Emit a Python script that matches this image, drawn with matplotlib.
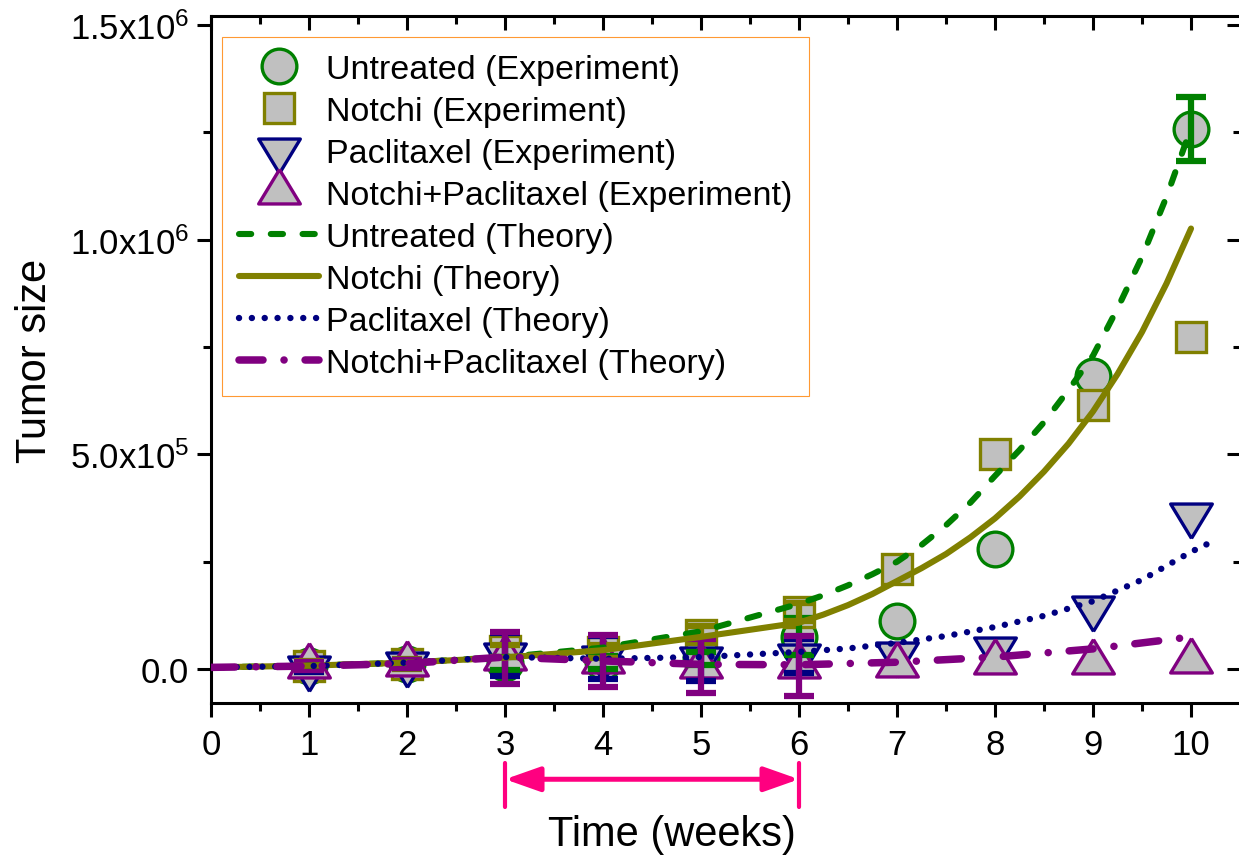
import numpy as np
import matplotlib
matplotlib.use('Agg')
import matplotlib.pyplot as plt
from matplotlib.path import Path
from matplotlib.transforms import blended_transform_factory

plt.rcParams['font.family'] = ['Liberation Sans', 'DejaVu Sans']
plt.rcParams['mathtext.default'] = 'regular'

# experiment (weeks 1..10)
weeks = [1, 2, 3, 4, 5, 6, 7, 8, 9, 10]
untreated = [8e3, 1.2e4, 1.4e4, 1.6e4, 2.5e4, 7.5e4, 1.12e5, 2.8e5, 6.83e5, 1.258e6]
notchi = [7e3, 1.2e4, 4.2e4, 4.0e4, 8.0e4, 1.33e5, 2.33e5, 5.0e5, 6.15e5, 7.73e5]
paclitaxel = [3e3, 1.2e4, 3.3e4, 2.6e4, 2.3e4, 3.0e4, 3.5e4, 4.7e4, 1.42e5, 3.6e5]
combo = [7e3, 1.2e4, 2.6e4, 1.9e4, 7e3, 7e3, 1.0e4, 1.6e4, 1.6e4, 1.9e4]

untreated_err = [8e3, 8e3, 1.5e4, 1.5e4, 1.5e4, 4.3e4, 0, 0, 0, 7.5e4]
notchi_err = [1.2e4, 1.2e4, 1.5e4, 1.5e4, 2e4, 2e4, 0, 0, 0, 0]
paclitaxel_err = [1e4, 1e4, 5e4, 5e4, 5e4, 4e4, 0, 0, 0, 0]
combo_err = [1e4, 1e4, 6e4, 6e4, 6.2e4, 7e4, 0, 0, 0, 0]

# theory curves
t_theory = [0, 1, 2, 3, 4, 5, 6, 6.25, 6.5, 6.75, 7, 7.25, 7.5, 7.75, 8,
            8.25, 8.5, 8.75, 9, 9.25, 9.5, 9.75, 10]
untreated_th = [4e3, 8e3, 1.5e4, 2.8e4, 5.0e4, 8.8e4, 1.52e5, 1.72e5, 1.95e5, 2.21e5,
                2.5e5, 2.89e5, 3.35e5, 3.88e5, 4.5e5, 5.1e5, 5.75e5, 6.5e5, 7.3e5,
                8.4e5, 9.6e5, 1.1e6, 1.26e6]
notchi_th = [4e3, 8e3, 1.5e4, 2.7e4, 4.4e4, 7.5e4, 1.08e5, 1.27e5, 1.49e5, 1.75e5,
             2.05e5, 2.35e5, 2.68e5, 3.07e5, 3.51e5, 4.02e5, 4.6e5, 5.25e5, 6.0e5,
             6.87e5, 7.85e5, 8.98e5, 1.026e6]
t_pac = [0, 1, 2, 3, 4, 5, 6, 6.5, 7, 7.5, 8, 8.5, 9, 9.5, 10, 10.2]
paclitaxel_th = [4e3, 7e3, 1.5e4, 2.8e4, 2.4e4, 2.8e4, 4.0e4, 4.8e4, 6.1e4, 7.7e4,
                 9.8e4, 1.24e5, 1.58e5, 2.08e5, 2.73e5, 2.95e5]
t_combo = [0, 1, 2, 3, 4, 5, 6, 7, 8, 9, 10]
combo_th = [4e3, 7e3, 1.3e4, 2.8e4, 1.9e4, 1.1e4, 1.0e4, 1.6e4, 2.8e4, 4.7e4, 7.5e4]

labels_exp = ['Untreated (Experiment)', 'Notchi (Experiment)',
              'Paclitaxel (Experiment)', 'Notchi+Paclitaxel (Experiment)']
labels_th = ['Untreated (Theory)', 'Notchi (Theory)',
             'Paclitaxel (Theory)', 'Notchi+Paclitaxel (Theory)']

yticks = [0, 5e5, 1e6, 1.5e6]
yticklabels = ['0.0', '5.0x10$^5$', '1.0x10$^6$', '1.5x10$^6$']

green, olive, navy, purple = '#008000', '#808000', '#000080', '#800080'
face = '#C0C0C0'

# triangles with the centroid on the data point
tri_up = Path([(0, 1.1), (-1, -0.55), (1, -0.55), (0, 1.1)])
tri_down = Path([(0, -1.1), (-1, 0.55), (1, 0.55), (0, -1.1)])

fig = plt.figure(figsize=(12.39, 8.62), dpi=100)
ax = fig.add_axes([211 / 1239, 158 / 862, 1030 / 1239, 687 / 862])

series = [
    (untreated, untreated_err, 'o', 25, green, labels_exp[0]),
    (notchi, notchi_err, 's', 22, olive, labels_exp[1]),
    (paclitaxel, paclitaxel_err, tri_down, 33, navy, labels_exp[2]),
    (combo, combo_err, tri_up, 33, purple, labels_exp[3]),
]
for vals, err, mk, ms, col, lab in series:
    ax.plot(weeks, vals, linestyle='none', marker=mk, ms=ms, mfc=face,
            mec=col, mew=2.4, label=lab, zorder=3)

for vals, err, mk, ms, col, lab in series:
    x = np.array(weeks)
    v = np.array(vals)
    e = np.array(err)
    m = e > 0
    ax.errorbar(x[m], v[m], yerr=e[m], fmt='none', ecolor=col, elinewidth=4.5,
                capsize=11, capthick=4.5, zorder=4)

ax.plot(t_theory, untreated_th, color=green, lw=4.4, linestyle=(0, (2.0, 3.2)),
        dash_capstyle='round', label=labels_th[0], zorder=5)
ax.plot(t_theory, notchi_th, color=olive, lw=4.4, solid_capstyle='round',
        label=labels_th[1], zorder=5)
ax.plot(t_pac, paclitaxel_th, color=navy, lw=4.6, linestyle=(0, (0.01, 2.0)),
        dash_capstyle='round', label=labels_th[2], zorder=5)
ax.plot(t_combo, combo_th, color=purple, lw=5.4, linestyle=(0, (3.2, 2.8, 0.01, 2.8)),
        dash_capstyle='round', label=labels_th[3], zorder=5)

ax.set_xlim(0, 10.51)
ax.set_ylim(-7.9e4, 1.521e6)
ax.set_xticks(range(0, 11))
ax.set_xticks(np.arange(0.5, 10.5, 1), minor=True)
ax.set_yticks(yticks)
ax.set_yticklabels(yticklabels)
ax.set_yticks([2.5e5, 7.5e5, 1.25e6], minor=True)

for s in ax.spines.values():
    s.set_linewidth(2.2)
ax.tick_params(axis='both', which='major', labelsize=25, width=2.2, length=10,
               direction='out', colors='black')
ax.tick_params(axis='both', which='minor', width=2.2, length=6, direction='out')
ax.tick_params(axis='x', which='major', pad=8)
ax.tick_params(axis='y', which='major', pad=6)
ax.tick_params(top=True, right=True, which='both')
# mirrored ticks on top/right point inward
for t in ax.xaxis.get_major_ticks() + ax.xaxis.get_minor_ticks():
    t.tick2line.set_marker(3)
for t in ax.yaxis.get_major_ticks() + ax.yaxis.get_minor_ticks():
    t.tick2line.set_marker(0)

ax.set_xlabel('Time (weeks)', fontsize=30)
ax.xaxis.set_label_coords(0.4476, -0.162)
ax.set_ylabel('Tumor size', fontsize=30)
ax.yaxis.set_label_coords(-0.151, 0.5)

leg = ax.legend(loc='upper left', bbox_to_anchor=(0.0107, 0.969), borderaxespad=0,
                fontsize=24.5, frameon=True, fancybox=False, framealpha=1,
                edgecolor='#FF9933', handlelength=2.35, handletextpad=0.2,
                labelspacing=0.32, borderpad=0.5)
leg.get_frame().set_linewidth(0.8)

# treatment window arrow below the axis
tr = blended_transform_factory(ax.transData, ax.transAxes)
pink = '#FF0080'
ax.annotate('', xy=(6, -0.111), xytext=(3, -0.111), xycoords=tr, textcoords=tr,
            annotation_clip=False,
            arrowprops=dict(arrowstyle='<|-|>,head_length=0.85,head_width=0.3',
                            color=pink, lw=3.6, mutation_scale=25,
                            shrinkA=0, shrinkB=0))
for xv in (3, 6):
    ax.plot([xv, xv], [-0.087, -0.151], transform=tr, color=pink, lw=3,
            solid_capstyle='round', clip_on=False)

fig.savefig('out.png', dpi=100)
